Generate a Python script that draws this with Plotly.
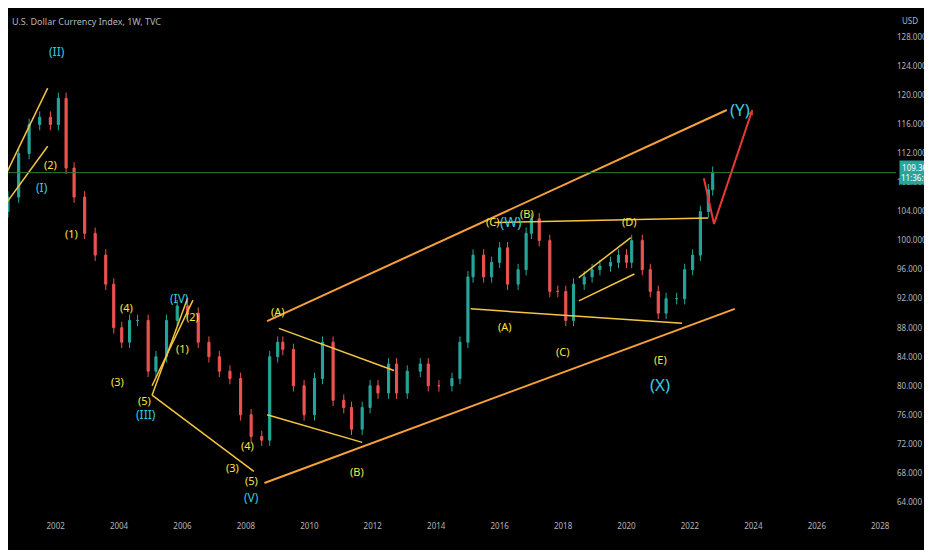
import plotly.graph_objects as go
import pandas as pd

dates = ["2000-07-01", "2000-11-01", "2001-03-01", "2001-07-01", "2001-11-01", "2002-02-01",
         "2002-05-01", "2002-08-01", "2002-12-01", "2003-04-01", "2003-08-01", "2003-11-01",
         "2004-02-01", "2004-05-01", "2004-08-01", "2004-12-01", "2005-03-01", "2005-07-01",
         "2005-11-01", "2006-03-01", "2006-07-01", "2006-11-01", "2007-03-01", "2007-07-01",
         "2007-11-01", "2008-03-01", "2008-07-01", "2008-10-01", "2009-01-01", "2009-03-01",
         "2009-07-01", "2009-11-01", "2010-03-01", "2010-06-01", "2010-10-01", "2011-02-01",
         "2011-05-01", "2011-09-01", "2011-12-01", "2012-03-01", "2012-07-01", "2012-10-01",
         "2013-02-01", "2013-07-01", "2013-10-01", "2014-02-01", "2014-07-01", "2014-10-01",
         "2015-01-01", "2015-03-01", "2015-07-01", "2015-10-01", "2016-01-01", "2016-04-01",
         "2016-08-01", "2016-11-01", "2017-01-01", "2017-04-01", "2017-08-01", "2017-11-01",
         "2018-02-01", "2018-05-01", "2018-09-01", "2018-12-01", "2019-03-01", "2019-07-01",
         "2019-10-01", "2020-01-01", "2020-03-01", "2020-07-01", "2020-10-01", "2021-01-01",
         "2021-04-01", "2021-08-01", "2021-11-01", "2022-02-01", "2022-05-01", "2022-08-01",
         "2022-09-20"]
closes = [106, 112, 116, 117, 116, 119.6, 110, 106, 101, 98, 94, 88,
          86, 89, 89, 82, 84, 89, 91, 90, 86, 84, 82, 81,
          76, 73, 72.5, 84, 86, 85, 80, 76, 81, 86, 78, 77,
          74, 77, 80, 79, 83, 79, 82, 83, 80, 80, 81, 86,
          95, 98, 95, 97, 99, 94, 96, 101, 103, 100, 93, 93,
          89, 94, 95, 96, 96.5, 97, 98, 97, 100, 96, 93, 90,
          92, 92, 96, 98, 104, 107, 109.4]
opens = [104] + closes[:-1]

labels_yellow = [("2001-11-01", 110.5, "(2)"), ("2002-07-01", 101, "(1)"), ("2004-04-01", 90.8, "(4)"),
                 ("2003-12-15", 80.6, "(3)"), ("2006-05-01", 89.5, "(2)"), ("2006-01-01", 85.2, "(1)"),
                 ("2004-10-15", 78, "(5)"), ("2008-01-15", 71.8, "(4)"), ("2007-08-01", 68.7, "(3)"),
                 ("2008-03-01", 67.0, "(5)"), ("2009-01-01", 90.2, "(A)"), ("2011-07-01", 68.2, "(B)"),
                 ("2015-10-15", 102.6, "(C)"), ("2016-11-15", 103.8, "(B)"), ("2016-03-01", 88.2, "(A)"),
                 ("2018-01-01", 84.7, "(C)"), ("2020-02-01", 102.6, "(D)"), ("2021-02-01", 83.6, "(E)")]
labels_cyan = [("2002-01-15", 126.0, "(II)", 12), ("2001-08-01", 107.3, "(I)", 12),
               ("2005-12-01", 92, "(IV)", 12), ("2004-11-01", 76.1, "(III)", 12),
               ("2008-03-01", 64.6, "(V)", 12), ("2016-05-01", 102.6, "(W)", 14),
               ("2021-01-20", 80.2, "(X)", 17), ("2023-08-01", 118, "(Y)", 17)]

orange_lines = [(["2008-09-01", "2023-03-01"], [88.9, 118]),
                (["2008-08-01", "2023-06-01"], [66.6, 90.6])]
yellow_lines = [(["2015-11-01", "2022-08-01"], [102.5, 103.1]),
                (["2015-02-01", "2021-10-01"], [90.6, 88.6]),
                (["2000-06-01", "2001-10-01"], [109, 121]),
                (["2000-06-01", "2001-10-01"], [105, 113]),
                (["2005-01-15", "2008-04-01"], [78.7, 68.2]),
                (["2005-01-15", "2006-03-01"], [78.7, 92.1]),
                (["2005-01-15", "2006-05-01"], [80, 91.8]),
                (["2009-01-15", "2012-09-01"], [87.9, 82.1]),
                (["2008-09-01", "2011-09-01"], [76, 72.2]),
                (["2018-07-01", "2020-02-20"], [94.9, 100.4]),
                (["2018-07-01", "2020-04-01"], [91.7, 95.4])]
arrow_x = ["2022-06-10", "2022-10-05", "2023-12-20"]
arrow_y = [108.6, 102.3, 118]

df = pd.DataFrame({"date": pd.to_datetime(dates), "open": opens, "close": closes})
df["high"] = df[["open", "close"]].max(axis=1) + 0.8
df["low"] = df[["open", "close"]].min(axis=1) - 0.8

fig = go.Figure()
fig.add_trace(go.Candlestick(x=df["date"], open=df["open"], high=df["high"], low=df["low"], close=df["close"],
                             increasing=dict(line=dict(color="#26a69a", width=1), fillcolor="#26a69a"),
                             decreasing=dict(line=dict(color="#ef5350", width=1), fillcolor="#ef5350"),
                             whiskerwidth=0))
for xs, ys in orange_lines:
    fig.add_trace(go.Scatter(x=xs, y=ys, mode="lines", line=dict(color="#f7a13b", width=2)))
for xs, ys in yellow_lines:
    fig.add_trace(go.Scatter(x=xs, y=ys, mode="lines", line=dict(color="#f5c542", width=1.5)))
fig.add_trace(go.Scatter(x=arrow_x, y=arrow_y, mode="lines", line=dict(color="#e53935", width=2)))
fig.add_annotation(x=arrow_x[2], y=arrow_y[2], ax=arrow_x[1], ay=arrow_y[1], xref="x", yref="y",
                   axref="x", ayref="y", showarrow=True, arrowhead=2, arrowcolor="#e53935", text="")

for x, y, t in labels_yellow:
    fig.add_annotation(x=x, y=y, text=t, showarrow=False, font=dict(color="#f5e642", size=11))
for x, y, t, s in labels_cyan:
    fig.add_annotation(x=x, y=y, text=t, showarrow=False, font=dict(color="#36c8e0", size=s))

fig.add_hline(y=109.363, line=dict(color="#2e7d32", width=1))
fig.add_annotation(x=1.003, xref="paper", y=109.363, text="109.363<br>11:36:00", showarrow=False,
                   xanchor="left", bgcolor="#26a69a", borderpad=1, font=dict(color="white", size=8))
fig.add_annotation(x=0.002, xref="paper", y=0.998, yref="paper", text="U.S. Dollar Currency Index, 1W, TVC",
                   showarrow=False, xanchor="left", yanchor="top", font=dict(color="#b2b5be", size=9))
fig.add_annotation(x=1.005, xref="paper", y=0.998, yref="paper", text="USD",
                   showarrow=False, xanchor="left", yanchor="top", font=dict(color="#b2b5be", size=8))

fig.update_layout(
    width=932, height=550, showlegend=False,
    paper_bgcolor="black", plot_bgcolor="black",
    margin=dict(l=0, r=44, t=4, b=38),
    font=dict(family="Noto Sans", color="#b2b5be", size=8),
    xaxis=dict(type="date", range=["2000-07-01", "2028-07-01"], tickformat="%Y", dtick="M24",
               tick0="2002-01-01", showgrid=False, rangeslider=dict(visible=False), zeroline=False),
    yaxis=dict(side="right", range=[61.5, 131.5], tickvals=list(range(64, 129, 4)), tickformat=".3f",
               showgrid=False, zeroline=False),
)
fig.write_html("out.html")
